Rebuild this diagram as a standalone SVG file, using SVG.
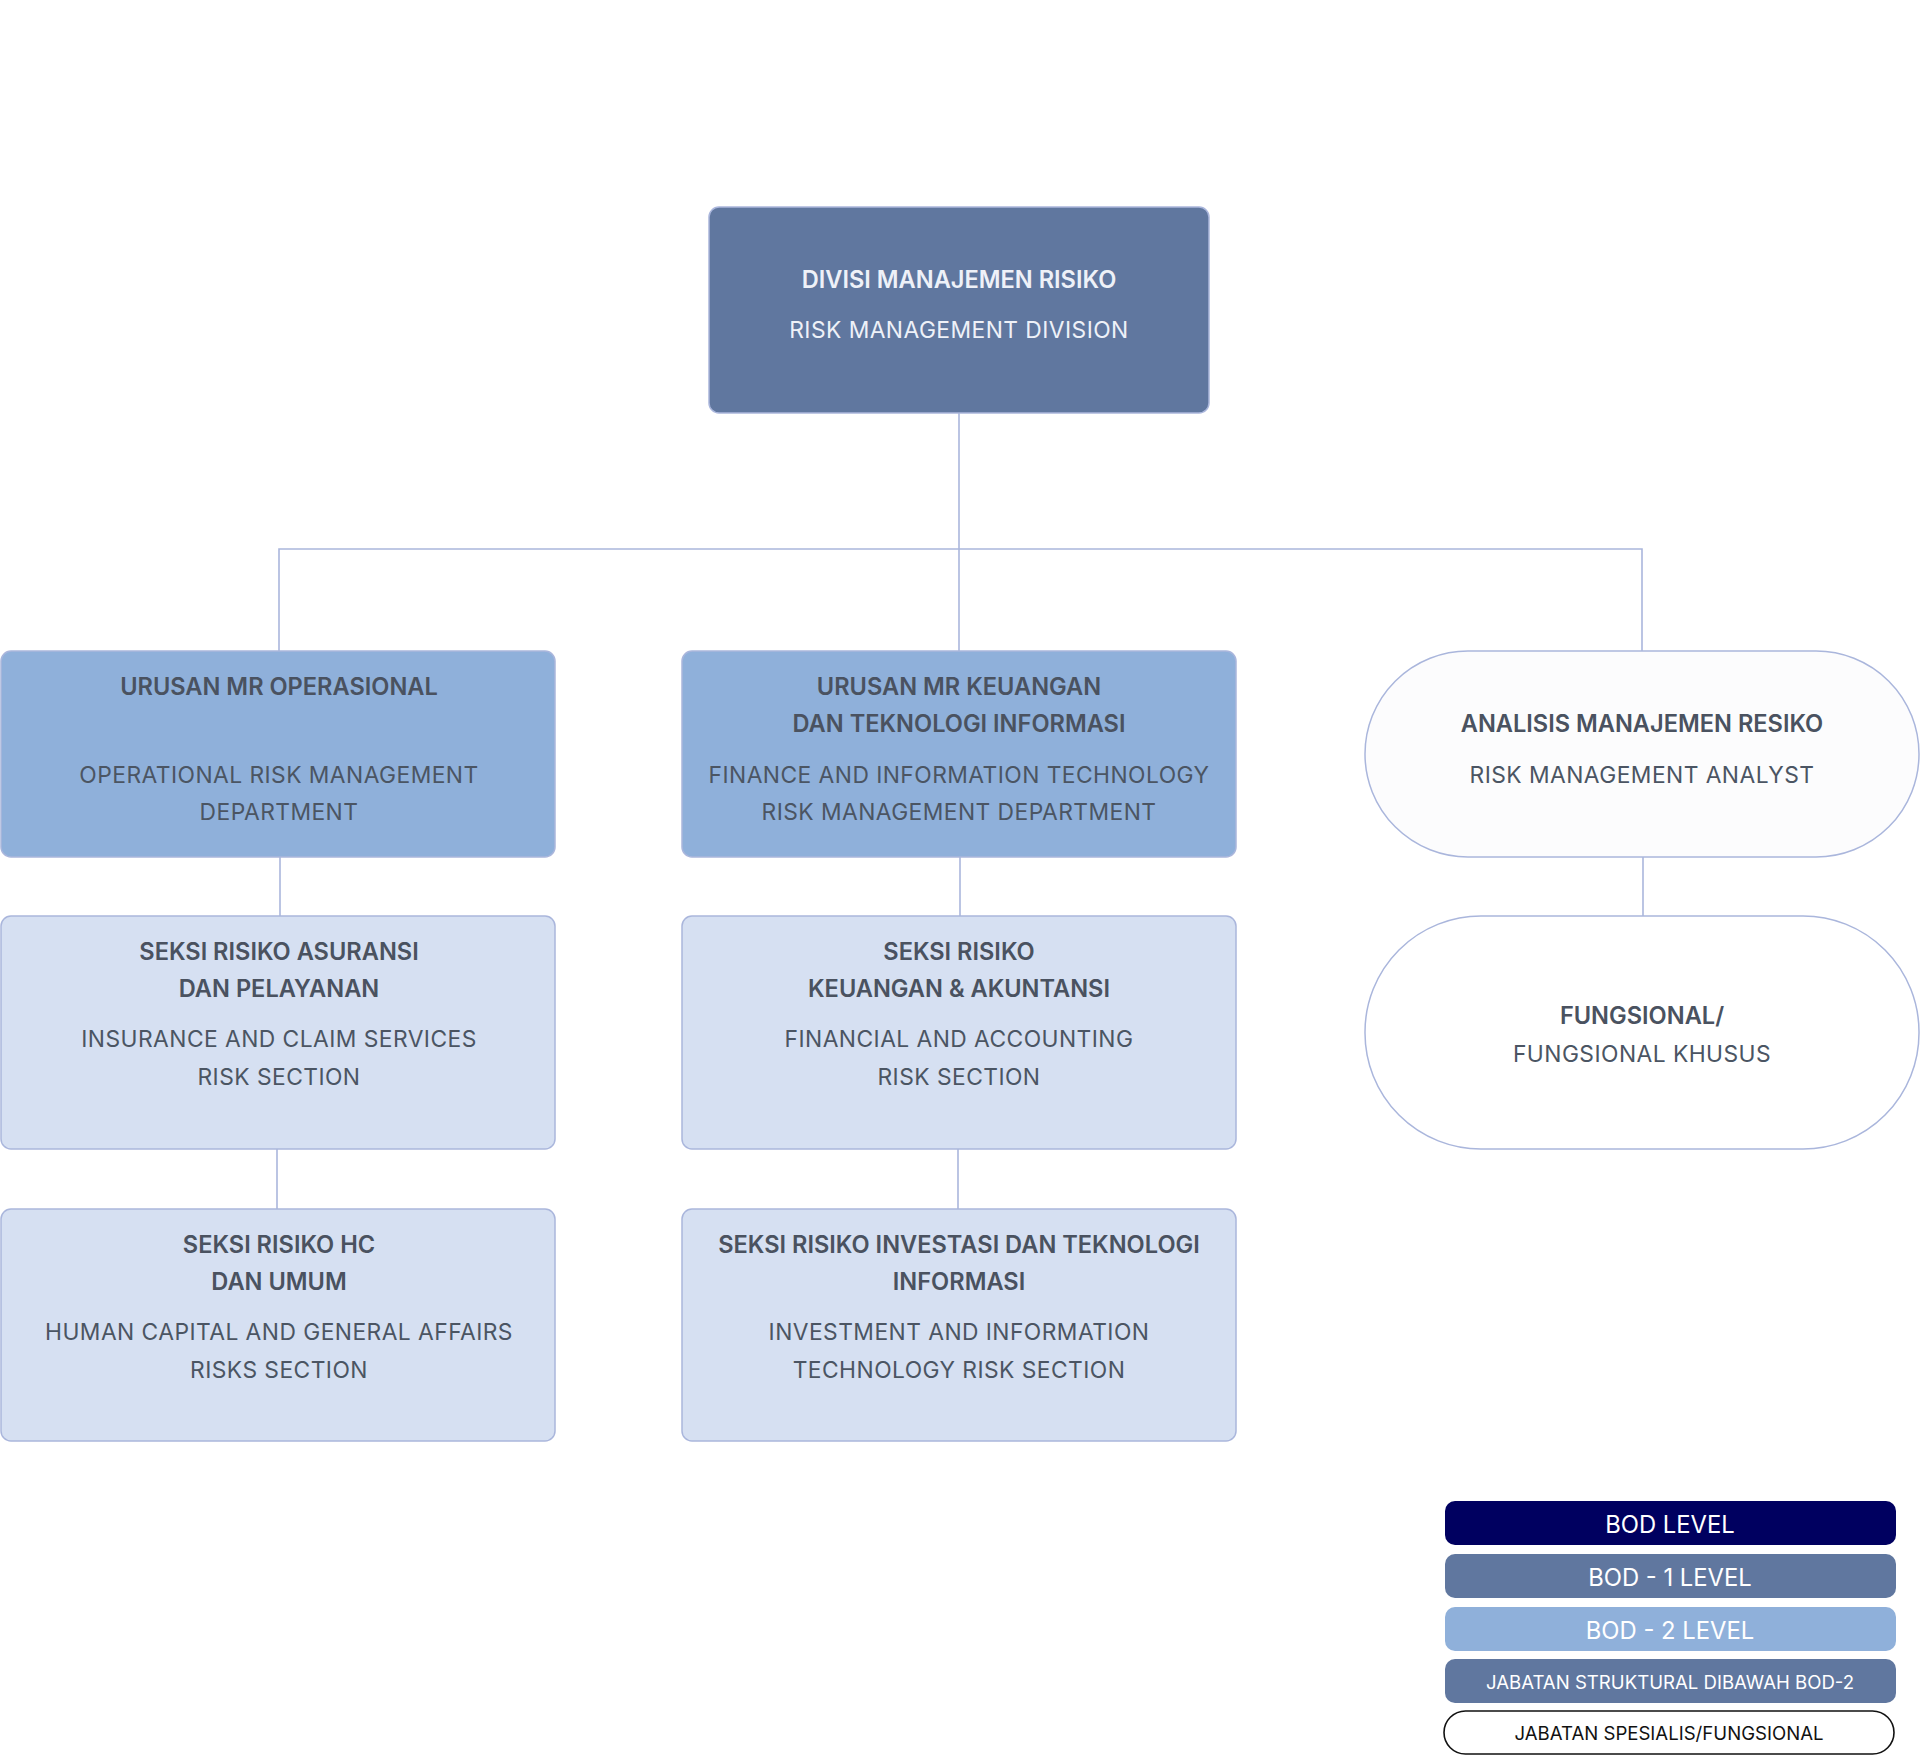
<svg xmlns="http://www.w3.org/2000/svg" width="1920" height="1756" viewBox="0 0 1920 1756">
<style>
.b{font-family:Inter,"Liberation Sans",sans-serif;font-weight:600;font-size:23.6px;fill:#4a5260;text-anchor:middle;dominant-baseline:central}
.r{font-family:Inter,"Liberation Sans",sans-serif;font-weight:400;font-size:22.8px;fill:#4b5563;text-anchor:middle;dominant-baseline:central;letter-spacing:0.45px}
.w{fill:#eef1f8}
.c{stroke:#aab6dc;stroke-width:1.6;fill:none}
.n1{fill:#60779f;stroke:#aab6dc;stroke-width:1.5}
.n2{fill:#8fb0da;stroke:#aab6dc;stroke-width:1.5}
.n3{fill:#d6e0f2;stroke:#aab6dc;stroke-width:1.5}
.np{fill:#fcfcfd;stroke:#aab6dc;stroke-width:1.5}
.np2{fill:#ffffff;stroke:#aab6dc;stroke-width:1.5}
.lg{font-family:Inter,"Liberation Sans",sans-serif;font-weight:400;fill:#ffffff;text-anchor:middle;dominant-baseline:central}
</style>
<rect width="1920" height="1756" fill="#ffffff"/>
<g id="connectors">
<path class="c" d="M959 413 V651"/>
<path class="c" d="M279 651 V549 H1642 V651"/>
<path class="c" d="M280 857 V916"/>
<path class="c" d="M277 1149 V1209"/>
<path class="c" d="M960 857 V916"/>
<path class="c" d="M958 1149 V1209"/>
<path class="c" d="M1643 857 V916"/>
</g>
<g id="n-divisi">
<rect class="n1" x="709" y="207" width="500" height="206" rx="10"/>
<text class="b w" x="959" y="279">DIVISI MANAJEMEN RISIKO</text>
<text class="r w" x="959" y="329">RISK MANAGEMENT DIVISION</text>
</g>
<g id="n-operasional">
<rect class="n2" x="1" y="651" width="554" height="206" rx="10"/>
<text class="b" x="279" y="686">URUSAN MR OPERASIONAL</text>
<text class="r" x="279" y="774">OPERATIONAL RISK MANAGEMENT</text>
<text class="r" x="279" y="811">DEPARTMENT</text>
</g>
<g id="n-keuangan">
<rect class="n2" x="682" y="651" width="554" height="206" rx="10"/>
<text class="b" x="959" y="686">URUSAN MR KEUANGAN</text>
<text class="b" x="959" y="723">DAN TEKNOLOGI INFORMASI</text>
<text class="r" x="959" y="774">FINANCE AND INFORMATION TECHNOLOGY</text>
<text class="r" x="959" y="811">RISK MANAGEMENT DEPARTMENT</text>
</g>
<g id="n-analis">
<rect class="np" x="1365" y="651" width="554" height="206" rx="103"/>
<text class="b" x="1642" y="723">ANALISIS MANAJEMEN RESIKO</text>
<text class="r" x="1642" y="774">RISK MANAGEMENT ANALYST</text>
</g>
<g id="n-asuransi">
<rect class="n3" x="1" y="916" width="554" height="233" rx="10"/>
<text class="b" x="279" y="951">SEKSI RISIKO ASURANSI</text>
<text class="b" x="279" y="988">DAN PELAYANAN</text>
<text class="r" x="279" y="1038">INSURANCE AND CLAIM SERVICES</text>
<text class="r" x="279" y="1076">RISK SECTION</text>
</g>
<g id="n-akuntansi">
<rect class="n3" x="682" y="916" width="554" height="233" rx="10"/>
<text class="b" x="959" y="951">SEKSI RISIKO</text>
<text class="b" x="959" y="988">KEUANGAN &amp; AKUNTANSI</text>
<text class="r" x="959" y="1038">FINANCIAL AND ACCOUNTING</text>
<text class="r" x="959" y="1076">RISK SECTION</text>
</g>
<g id="n-fungsional">
<rect class="np2" x="1365" y="916" width="554" height="233" rx="116"/>
<text class="b" x="1642" y="1015">FUNGSIONAL/</text>
<text class="r" x="1642" y="1053">FUNGSIONAL KHUSUS</text>
</g>
<g id="n-hc">
<rect class="n3" x="1" y="1209" width="554" height="232" rx="10"/>
<text class="b" x="279" y="1244">SEKSI RISIKO HC</text>
<text class="b" x="279" y="1281">DAN UMUM</text>
<text class="r" x="279" y="1331">HUMAN CAPITAL AND GENERAL AFFAIRS</text>
<text class="r" x="279" y="1369">RISKS SECTION</text>
</g>
<g id="n-investasi">
<rect class="n3" x="682" y="1209" width="554" height="232" rx="10"/>
<text class="b" x="959" y="1244">SEKSI RISIKO INVESTASI DAN TEKNOLOGI</text>
<text class="b" x="959" y="1281">INFORMASI</text>
<text class="r" x="959" y="1331">INVESTMENT AND INFORMATION</text>
<text class="r" x="959" y="1369">TECHNOLOGY RISK SECTION</text>
</g>
<g id="legend">
<rect x="1445" y="1501" width="451" height="44" rx="10" fill="#000060"/>
<text class="lg" x="1670" y="1524" font-size="23.8">BOD LEVEL</text>
<rect x="1445" y="1554" width="451" height="44" rx="10" fill="#60779f"/>
<text class="lg" x="1670" y="1577" font-size="23.8">BOD - 1 LEVEL</text>
<rect x="1445" y="1607" width="451" height="44" rx="10" fill="#8fb0da"/>
<text class="lg" x="1670" y="1630" font-size="23.8">BOD - 2 LEVEL</text>
<rect x="1445" y="1659" width="451" height="44" rx="10" fill="#60779f"/>
<text class="lg" x="1670" y="1682" font-size="18.6">JABATAN STRUKTURAL DIBAWAH BOD-2</text>
<rect x="1444" y="1711" width="450" height="43" rx="21.5" fill="#ffffff" stroke="#111111" stroke-width="1.6"/>
<text class="lg" x="1669" y="1733" font-size="18.6" style="fill:#111111">JABATAN SPESIALIS/FUNGSIONAL</text>
</g>
</svg>
